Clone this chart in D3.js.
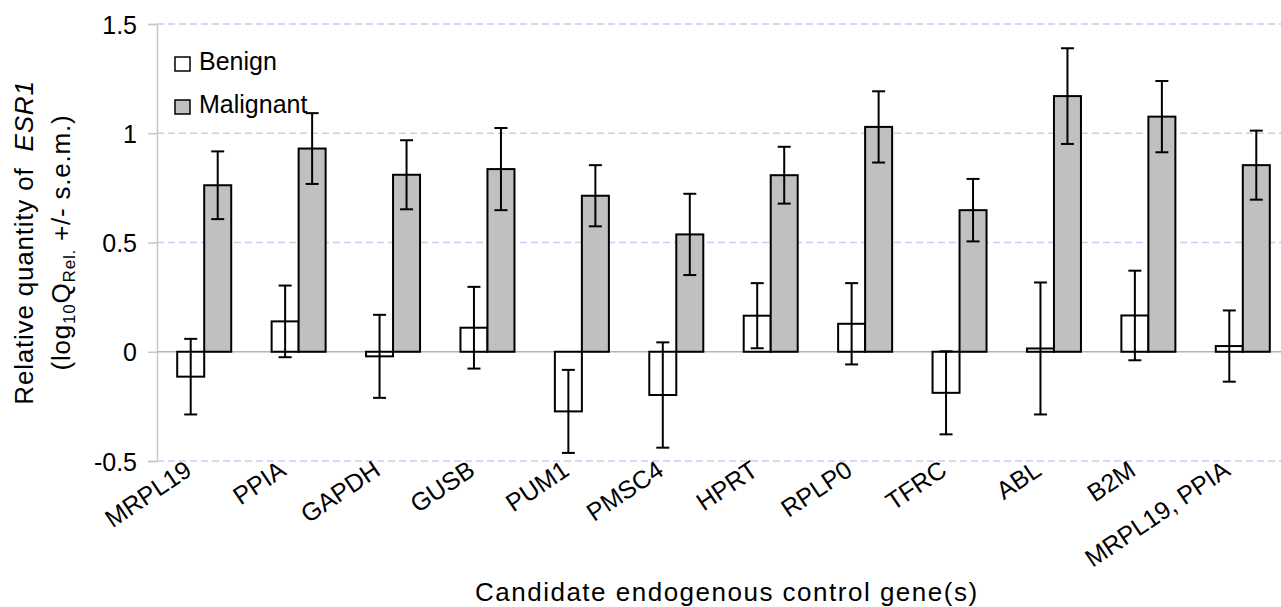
<!DOCTYPE html>
<html>
<head>
<meta charset="utf-8">
<script src="https://cdn.jsdelivr.net/npm/d3@7"></script>
<style>
  body { margin: 0; background: #fff; }
  svg { display: block; font-family: "Liberation Sans", Arial, sans-serif; }
</style>
</head>
<body>
<div id="chart"></div>
<script>
// data
const genes = ["MRPL19", "PPIA", "GAPDH", "GUSB", "PUM1", "PMSC4", "HPRT", "RPLP0", "TFRC", "ABL", "B2M", "MRPL19, PPIA"];
const benign = [-0.114, 0.139, -0.021, 0.11, -0.273, -0.198, 0.165, 0.128, -0.188, 0.015, 0.166, 0.026];
const benignErr = [0.173, 0.164, 0.19, 0.187, 0.19, 0.241, 0.149, 0.186, 0.19, 0.302, 0.205, 0.163];
const malignant = [0.762, 0.93, 0.81, 0.836, 0.714, 0.537, 0.808, 1.029, 0.648, 1.17, 1.076, 0.854];
const malignantErr = [0.155, 0.162, 0.158, 0.188, 0.14, 0.186, 0.13, 0.163, 0.143, 0.219, 0.163, 0.158];
const yTicks = [-0.5, 0, 0.5, 1, 1.5];
const seriesNames = ["Benign", "Malignant"];

const width = 1281, height = 607;
const plotLeft = 157, plotRight = 1290, plotTop = 24, plotBottom = 461;

const svg = d3.select("#chart").append("svg")
    .attr("width", width)
    .attr("height", height);

const x = d3.scaleBand().domain(genes).range([plotLeft, plotRight]);
const y = d3.scaleLinear().domain([-0.5, 1.5]).range([plotBottom, plotTop]);
const barW = 27;

// gridlines (dashed, light lavender)
svg.append("g")
    .selectAll("line")
    .data(yTicks.filter(d => d !== 0))
    .enter().append("line")
    .attr("x1", plotLeft).attr("x2", width)
    .attr("y1", d => y(d)).attr("y2", d => y(d))
    .attr("stroke", "#ccccf4")
    .attr("stroke-width", 1.5)
    .attr("stroke-dasharray", "7,4");

// y axis
const yAxis = svg.append("g")
    .attr("transform", `translate(${plotLeft},0)`)
    .call(d3.axisLeft(y).tickValues(yTicks).tickSize(9).tickPadding(11)
        .tickFormat(d => String(d)));
yAxis.select(".domain").attr("stroke", "#c8c8c8").attr("stroke-width", 1.5);
yAxis.selectAll(".tick line").attr("stroke", "#c8c8c8").attr("stroke-width", 1.5);
yAxis.selectAll(".tick text")
    .attr("font-size", 25)
    .attr("fill", "#000")
    .attr("font-family", "Liberation Sans, Arial, sans-serif")
    .attr("dy", "0.36em");

// zero line
svg.append("line")
    .attr("x1", plotLeft).attr("x2", width)
    .attr("y1", y(0)).attr("y2", y(0))
    .attr("stroke", "#b4b4b4")
    .attr("stroke-width", 1.5);

// bars
const rows = genes.map((g, i) => ({
    gene: g,
    vals: [
        { s: 0, v: benign[i], e: benignErr[i] },
        { s: 1, v: malignant[i], e: malignantErr[i] }
    ]
}));
const fills = ["#ffffff", "#c0c0c0"];

const grp = svg.append("g").selectAll("g")
    .data(rows)
    .enter().append("g")
    .attr("transform", d => `translate(${x(d.gene) + x.bandwidth() / 2},0)`);

grp.selectAll("rect")
    .data(d => d.vals)
    .enter().append("rect")
    .attr("x", d => d.s === 0 ? -barW : 0)
    .attr("width", barW)
    .attr("y", d => y(Math.max(0, d.v)))
    .attr("height", d => Math.abs(y(d.v) - y(0)))
    .attr("fill", d => fills[d.s])
    .attr("stroke", "#000")
    .attr("stroke-width", 2);

// error bars
const eb = grp.selectAll("g.err")
    .data(d => d.vals)
    .enter().append("g")
    .attr("class", "err")
    .attr("transform", d => `translate(${d.s === 0 ? -barW / 2 : barW / 2},0)`)
    .attr("stroke", "#000")
    .attr("stroke-width", 2);
eb.append("line")
    .attr("x1", 0).attr("x2", 0)
    .attr("y1", d => y(d.v + d.e)).attr("y2", d => y(d.v - d.e));
eb.append("line")
    .attr("x1", -6.5).attr("x2", 6.5)
    .attr("y1", d => y(d.v + d.e)).attr("y2", d => y(d.v + d.e));
eb.append("line")
    .attr("x1", -6.5).attr("x2", 6.5)
    .attr("y1", d => y(d.v - d.e)).attr("y2", d => y(d.v - d.e));

// x labels, rotated
svg.append("g").selectAll("text")
    .data(genes)
    .enter().append("text")
    .attr("transform", d => `translate(${x(d) + x.bandwidth() / 2 - 11},474) rotate(-34)`)
    .attr("text-anchor", "end")
    .attr("font-size", 25)
    .text(d => d);

// axis titles
svg.append("text")
    .attr("x", 475).attr("y", 601)
    .attr("font-size", 26)
    .attr("letter-spacing", 1.5)
    .text("Candidate endogenous control gene(s)");

const yt1 = svg.append("text")
    .attr("transform", `translate(33,${(plotTop + plotBottom) / 2}) rotate(-90)`)
    .attr("text-anchor", "middle")
    .attr("font-size", 26)
    .attr("letter-spacing", 0.8)
    .style("white-space", "pre");
yt1.append("tspan").text("Relative quantity of  ");
yt1.append("tspan").attr("font-style", "italic").text("ESR1");

const yt2 = svg.append("text")
    .attr("transform", `translate(70,${(plotTop + plotBottom) / 2}) rotate(-90)`)
    .attr("text-anchor", "middle")
    .attr("font-size", 26)
    .attr("letter-spacing", 0.8);
yt2.append("tspan").text("(log");
yt2.append("tspan").attr("font-size", 17).attr("dy", 5).text("10");
yt2.append("tspan").attr("dy", -5).text("Q");
yt2.append("tspan").attr("font-size", 17).attr("dy", 5).text("Rel.");
yt2.append("tspan").attr("dy", -5).text(" +/- s.e.m.)");

// legend
const leg = svg.append("g").selectAll("g")
    .data(seriesNames)
    .enter().append("g")
    .attr("transform", (d, i) => `translate(175,${57 + i * 43})`);
leg.append("rect")
    .attr("width", 15).attr("height", 14)
    .attr("fill", (d, i) => fills[i])
    .attr("stroke", "#000")
    .attr("stroke-width", 1.5);
leg.append("text")
    .attr("x", 24).attr("y", 13)
    .attr("font-size", 25)
    .text(d => d);
</script>
</body>
</html>
